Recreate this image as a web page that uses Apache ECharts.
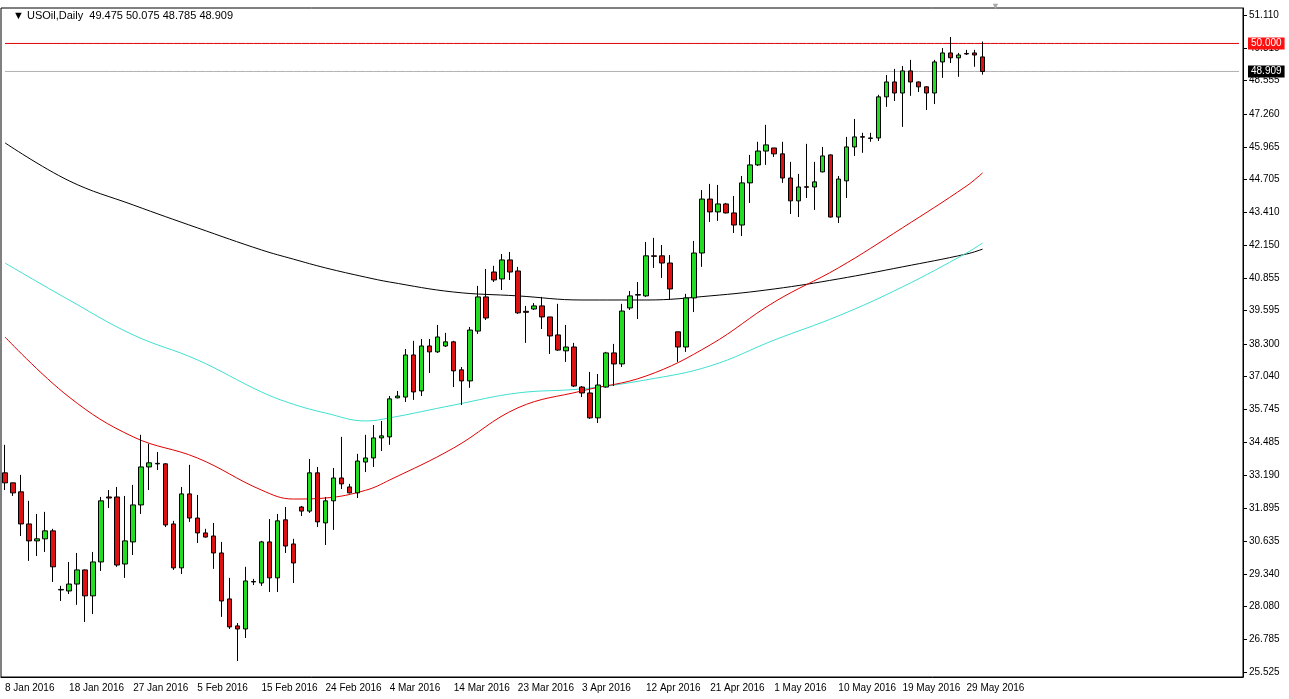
<!DOCTYPE html>
<html><head><meta charset="utf-8">
<script src="https://cdn.jsdelivr.net/npm/echarts@6/dist/echarts.min.js"></script>
<style>html,body{margin:0;padding:0;background:#fff}#c{width:1289px;height:699px}</style>
</head><body><div id="c"></div>
<script>
// [open, close, low, high]
const candles = [
[33.28,32.89,32.61,34.37],[32.89,32.50,32.38,32.89],[32.54,31.29,30.82,33.20],[31.29,30.63,29.85,32.19],
[30.63,30.71,30.04,31.68],[30.71,31.02,30.20,31.76],[31.02,29.62,29.03,31.10],[28.74,28.72,28.29,28.88],
[28.68,28.95,28.56,29.81],[28.95,29.50,28.14,30.16],[29.50,28.49,27.47,29.52],[28.49,29.81,27.78,30.20],
[29.81,32.19,29.46,32.34],[32.34,32.30,31.91,32.61],[32.34,29.69,29.62,32.73],[29.73,30.63,29.19,32.38],
[30.59,32.03,30.08,32.81],[32.03,33.51,31.68,34.76],[33.51,33.67,32.61,34.41],[33.63,33.65,33.39,34.09],
[33.63,31.25,31.17,33.65],[31.29,29.58,29.50,31.41],[29.58,32.46,29.34,32.73],[32.46,31.52,31.37,33.59],
[31.52,30.94,30.55,32.42],[30.94,30.78,30.76,31.10],[30.82,30.16,29.54,31.33],[30.16,28.29,27.67,30.59],
[28.37,27.28,27.20,29.19],[27.32,27.20,25.95,27.43],[27.20,29.07,26.85,29.62],[29.05,29.03,28.91,29.15],
[28.99,30.59,28.88,30.63],[30.59,29.19,28.64,31.48],[29.19,31.41,28.64,31.68],[31.45,30.43,30.16,31.95],
[30.51,29.77,28.99,30.71],[31.95,31.79,31.60,31.99],[31.79,33.28,31.72,33.82],[33.28,31.37,31.17,33.51],
[31.33,32.19,30.47,32.34],[32.19,33.08,31.06,33.47],[33.08,32.85,32.65,34.68],[32.73,32.50,32.48,32.85],
[32.50,33.74,32.30,34.02],[33.70,33.86,33.31,34.76],[33.86,34.64,33.51,35.14],[34.64,34.72,34.13,35.30],
[34.68,36.16,34.37,36.27],[36.20,36.27,36.18,36.47],[36.23,37.87,36.04,38.10],[37.87,36.43,36.12,38.42],
[36.47,38.22,36.27,38.49],[38.22,37.99,37.17,38.49],[37.99,38.57,37.95,39.04],[38.22,38.38,38.18,38.73],
[38.38,37.25,36.62,38.42],[37.29,36.86,35.92,37.40],[36.86,38.84,36.59,38.96],[38.80,40.13,38.69,40.56],
[40.13,39.31,39.23,41.22],[41.10,40.79,40.71,41.34],[40.83,41.57,40.40,41.80],[41.57,41.10,40.79,41.88],
[41.14,39.51,39.47,41.30],[39.57,39.53,38.34,39.78],[39.66,39.78,39.62,39.89],[39.78,39.35,38.88,40.13],
[39.35,38.61,37.91,39.35],[38.65,38.06,38.03,39.86],[38.03,38.18,37.60,39.04],[38.18,36.66,36.62,38.34],
[36.62,36.39,36.23,36.66],[36.39,35.42,35.38,37.21],[35.42,36.70,35.22,37.13],[36.62,37.95,36.59,37.99],
[37.95,37.52,36.66,38.30],[37.52,39.58,37.40,39.86],[39.70,40.17,39.62,40.36],[40.22,40.20,39.27,40.71],
[40.17,41.73,40.13,42.27],[41.73,41.71,41.26,42.43],[41.73,41.45,40.87,42.15],[41.45,40.44,40.01,41.76],
[38.77,38.18,37.60,38.77],[38.18,40.09,37.99,40.25],[40.09,41.84,39.54,42.31],[41.84,43.94,41.30,44.29],
[43.94,43.44,43.05,44.53],[43.44,43.75,43.09,44.49],[43.75,43.40,43.38,43.79],[43.40,42.93,42.62,44.06],
[42.93,44.57,42.50,44.84],[44.57,45.27,43.79,45.66],[45.27,45.81,45.23,46.17],[45.81,46.05,45.27,46.83],
[45.93,45.70,45.58,45.93],[45.70,44.76,44.57,46.17],[44.76,43.87,43.36,45.39],[43.87,44.41,43.24,44.92],
[44.42,44.40,43.98,46.09],[44.41,44.61,43.52,45.39],[45.00,45.62,44.98,45.97],[45.66,43.24,43.22,45.68],
[43.24,44.72,43.01,44.84],[44.65,45.97,43.98,46.36],[45.97,46.36,45.62,47.06],[46.37,46.35,45.74,46.52],
[46.30,46.32,46.17,46.52],[46.32,47.92,46.20,48.00],[47.92,48.50,47.53,48.77],[48.50,48.07,47.76,49.01],
[48.07,48.93,46.75,49.12],[48.93,48.50,47.96,49.36],[48.50,48.31,48.11,48.52],[48.31,48.07,47.41,48.33],
[48.07,49.28,47.64,49.36],[49.28,49.63,48.66,49.82],[49.63,49.44,49.24,50.25],[49.44,49.55,48.70,49.63],
[49.61,49.59,49.55,49.75],[49.63,49.55,49.09,49.75],[49.475,48.909,48.785,50.075]
];
// moving averages read at sampled bar indices
const maIdx   = [0,8,16,24,32,36,40,45,48,56,64,72,80,88,96,104,112,120,122];
const maBlack = [46.13,44.65,43.71,42.82,41.96,41.60,41.26,40.90,40.71,40.32,40.17,40.01,40.01,40.17,40.44,40.83,41.30,41.80,41.99];
const maCyan  = [41.45,40.01,38.65,37.68,36.43,35.95,35.61,35.30,35.42,35.92,36.39,36.55,36.90,37.44,38.45,39.39,40.52,41.84,42.23];
const maRed   = [38.57,36.23,34.68,33.86,32.61,32.26,32.30,32.60,33.00,34.25,35.81,36.47,37.05,38.26,39.93,41.26,42.82,44.45,44.96];
const dateLabels = ['8 Jan 2016','18 Jan 2016','27 Jan 2016','5 Feb 2016','15 Feb 2016','24 Feb 2016','4 Mar 2016','14 Mar 2016','23 Mar 2016','3 Apr 2016','12 Apr 2016','21 Apr 2016','1 May 2016','10 May 2016','19 May 2016','29 May 2016'];
const yTicks = [51.110,49.815,48.555,47.260,45.965,44.705,43.410,42.150,40.855,39.595,38.300,37.040,35.745,34.485,33.190,31.895,30.635,29.340,28.080,26.785,25.525];
const title = 'USOil,Daily  49.475 50.075 48.785 48.909';
const resistance = 50.000, lastPrice = 48.909;

const N = 155;
const cats = [];
for (let i = 0; i < N; i++) cats.push(i % 8 === 0 && dateLabels[i/8] ? dateLabels[i/8] : 'b' + i);
function ma(vals){ const a = new Array(candles.length).fill(null); maIdx.forEach((k,j)=>a[k]=vals[j]); return a; }
const font = '"Liberation Sans", Arial, sans-serif';
const chart = echarts.init(document.getElementById('c'));
function hline(val, lineColor, boxColor){
  return {type:'line',data:new Array(N).fill(val),silent:true,z:2,showSymbol:false,
    lineStyle:{color:lineColor,width:1},itemStyle:{color:lineColor},
    endLabel:{show:true,formatter:val.toFixed(3),backgroundColor:boxColor,color:'#fff',fontSize:10,fontFamily:font,padding:[1,3],distance:9}};
}
chart.setOption({
  animation:false,
  backgroundColor:'#fff',
  title:{text:'▼ '+title,left:8,top:5,textStyle:{fontSize:11,fontWeight:'normal',color:'#000',fontFamily:font}},
  graphic:[{type:'text',left:991,top:2,style:{text:'▼',fill:'#aaa',fontSize:9}}],
  grid:{left:1,right:46,top:8,bottom:22,show:true,borderColor:'#000',borderWidth:1},
  xAxis:{type:'category',data:cats,boundaryGap:true,
    axisLine:{lineStyle:{color:'#000'}},axisTick:{show:false},splitLine:{show:false},
    axisLabel:{interval:0,color:'#000',fontSize:10,fontFamily:font,align:'left',margin:6,
      formatter:v=>v.charAt(0)==='b'?'':v}},
  yAxis:{type:'value',position:'right',min:25.33,max:51.38,scale:true,
    splitLine:{show:false},axisLine:{show:true,lineStyle:{color:'#000'}},
    axisTick:{show:true,inside:false,length:4,customValues:yTicks,lineStyle:{color:'#000'}},
    axisLabel:{customValues:yTicks,color:'#000',fontSize:10,fontFamily:font,margin:6,formatter:v=>v.toFixed(3)}},
  series:[
    {type:'line',data:ma(maBlack),connectNulls:true,smooth:0.4,showSymbol:false,lineStyle:{color:'#000',width:1},z:1},
    {type:'line',data:ma(maCyan),connectNulls:true,smooth:0.4,showSymbol:false,lineStyle:{color:'#40e0d0',width:1},z:1},
    {type:'line',data:ma(maRed),connectNulls:true,smooth:0.4,showSymbol:false,lineStyle:{color:'#e00000',width:1},z:1},
    hline(lastPrice,'#b0b0b0','#000'),
    hline(resistance,'#e00000','#ff1010'),
    {type:'candlestick',data:candles,barWidth:5,z:3,
      itemStyle:{color:'#22dd22',color0:'#dd1111',borderColor:'#000',borderColor0:'#000',borderWidth:1}}
  ]
});
</script></body></html>
